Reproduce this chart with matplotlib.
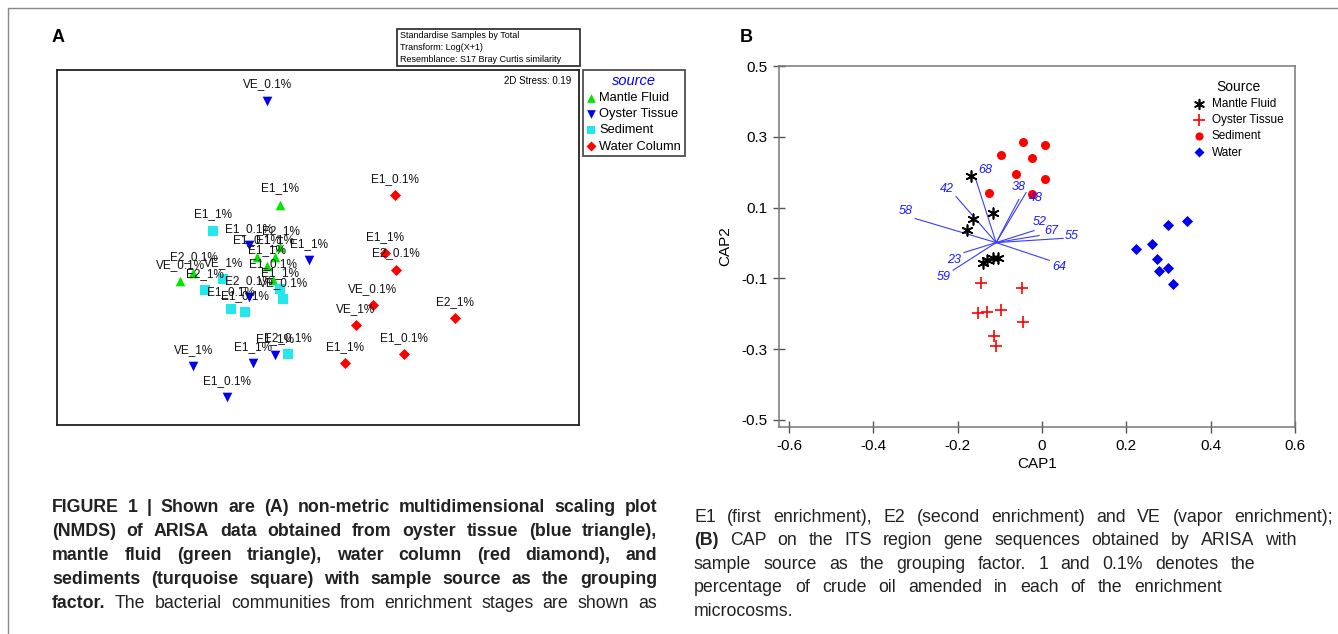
import matplotlib
matplotlib.use("Agg")
import matplotlib.pyplot as plt
from matplotlib.lines import Line2D
from matplotlib.patches import Rectangle

plt.rcParams['font.family'] = ['Liberation Sans', 'DejaVu Sans']

W, H = 1338, 634

# ---------------- panel A : NMDS of ARISA data ----------------
mantle_x = [-0.15, -0.92, -0.82, -0.33, -0.15, -0.25, -0.21, -0.19]
mantle_y = [0.35, -0.24, -0.18, -0.05, 0.02, -0.12, -0.23, -0.05]
mantle_lab = ["E1_1%", "VE_0.1%", "E2_0.1%", "E1_0.1%", "E2_1%", "E1_1%", "E1_0.1%", "E1_1%"]

oyster_x = [-0.25, 0.07, -0.39, -0.39, -0.82, -0.36, -0.19, -0.56]
oyster_y = [1.15, -0.08, 0.04, -0.36, -0.89, -0.87, -0.81, -1.13]
oyster_lab = ["VE_0.1%", "E1_1%", "E1_0.1%", "E2_0.1%", "VE_1%", "E1_1%", "E1_1%", "E1_0.1%"]

sed_x = [-0.67, -0.59, -0.73, -0.53, -0.42, -0.15, -0.13, -0.09]
sed_y = [0.15, -0.22, -0.31, -0.45, -0.48, -0.30, -0.38, -0.80]
sed_lab = ["E1_1%", "VE_1%", "E2_1%", "E1_0.1%", "E1_0.1%", "E1_1%", "VE_0.1%", "E2_0.1%"]

water_x = [0.73, 0.65, 0.74, 0.56, 0.43, 1.19, 0.80, 0.35]
water_y = [0.42, -0.02, -0.15, -0.42, -0.58, -0.52, -0.80, -0.87]
water_lab = ["E1_0.1%", "E1_1%", "E2_0.1%", "VE_0.1%", "VE_1%", "E2_1%", "E1_0.1%", "E1_1%"]

# ---------------- panel B : CAP ----------------
mf_x = [-0.168, -0.116, -0.164, -0.178, -0.140, -0.131, -0.117, -0.105]
mf_y = [0.190, 0.086, 0.069, 0.038, -0.056, -0.048, -0.042, -0.042]

ot_x = [-0.145, -0.047, -0.152, -0.130, -0.097, -0.045, -0.114, -0.109]
ot_y = [-0.114, -0.128, -0.199, -0.196, -0.190, -0.224, -0.263, -0.292]

sd_x = [-0.045, 0.007, -0.097, -0.024, -0.062, 0.007, -0.126, -0.024]
sd_y = [0.286, 0.277, 0.249, 0.241, 0.196, 0.182, 0.142, 0.137]

wt_x = [0.223, 0.261, 0.299, 0.344, 0.273, 0.278, 0.299, 0.311]
wt_y = [-0.018, -0.004, 0.052, 0.063, -0.046, -0.080, -0.072, -0.117]

vec_origin = (-0.109, 0.001)
vec_names = ["68", "42", "58", "38", "48", "52", "67", "55", "64", "23", "59"]
vec_x = [-0.157, -0.204, -0.301, -0.055, -0.038, -0.019, -0.007, 0.050, 0.017, -0.185, -0.211]
vec_y = [0.179, 0.131, 0.069, 0.123, 0.142, 0.035, 0.021, 0.013, -0.049, -0.027, -0.077]
# label offsets from vector tips (pixels)
vec_dx = [9, -9, -9, 0, 10, 6, 12, 9, 10, -10, -9]
vec_dy = [10, 8, 8, 12, -5, 9, 5, 2, -7, -7, -7]

fig = plt.figure(figsize=(W / 100, H / 100), dpi=100)

# outer frame (left and top)
fig.add_artist(Line2D([8 / W, 8 / W, 1], [0, 1 - 8 / H, 1 - 8 / H], color='#888888', lw=1,
                      transform=fig.transFigure))

# ---- panel A ----
axA = fig.add_axes([57 / W, 1 - 425 / H, 522 / W, 355 / H])
groups = [
    (mantle_x, mantle_y, mantle_lab, '^', '#00e600', 'Mantle Fluid'),
    (oyster_x, oyster_y, oyster_lab, 'v', '#0000ee', 'Oyster Tissue'),
    (sed_x, sed_y, sed_lab, 's', '#22e8ee', 'Sediment'),
    (water_x, water_y, water_lab, 'D', '#ff0000', 'Water Column'),
]
for gx, gy, glab, mk, col, name in groups:
    s = 32 if mk == 'D' else 48
    axA.scatter(gx, gy, marker=mk, s=s, color=col, linewidths=0, label=name, zorder=3)
for gx, gy, glab, mk, col, name in groups:
    for x, y, t in zip(gx, gy, glab):
        axA.annotate(t, (x, y), xytext=(0, 11.5), textcoords='offset points',
                     ha='center', va='center', fontsize=8.5, color='#111111', zorder=4)
axA.set_xlim(-1.869, 2.146)
axA.set_ylim(-1.346, 1.385)
axA.set_xticks([])
axA.set_yticks([])
for sp in axA.spines.values():
    sp.set_linewidth(1.3)
    sp.set_color('#222222')
axA.text(0.986, 0.97, "2D Stress: 0.19", transform=axA.transAxes, ha='right', va='center', fontsize=7)

legA = axA.legend(loc='upper left', bbox_to_anchor=(583 / W, 1 - 70 / H), bbox_transform=fig.transFigure,
                  title='source', fontsize=9.3, frameon=True, fancybox=False, handlelength=0.6,
                  handletextpad=0.35, labelspacing=0.32, borderpad=0.3, borderaxespad=0,
                  markerscale=0.9)
legA.get_frame().set_edgecolor('#222222')
legA.get_frame().set_linewidth(1.3)
legA.get_title().set_color('#0000ee')
legA.get_title().set_fontstyle('italic')
legA.get_title().set_fontsize(10.5)

# info box above panel A
fig.add_artist(Rectangle((397 / W, 1 - 66 / H), 183 / W, 37 / H, fill=False, ec='#222222', lw=1.2,
                         transform=fig.transFigure))
for yy, line in zip([35, 47, 59], ["Standardise Samples by Total", "Transform: Log(X+1)",
                                   "Resemblance: S17 Bray Curtis similarity"]):
    fig.text(400 / W, 1 - yy / H, line, fontsize=6.5, va='center', ha='left')

fig.text(52 / W, 1 - 38 / H, "A", fontsize=13, fontweight='bold', va='center', ha='left')

# ---- panel B ----
axB = fig.add_axes([779 / W, 1 - 427 / H, 516 / W, 361 / H])
vec_col = '#3b3bff'
for name, ex, ey, dx, dy in zip(vec_names, vec_x, vec_y, vec_dx, vec_dy):
    axB.plot([vec_origin[0], ex], [vec_origin[1], ey], color=vec_col, lw=0.8, zorder=2)
    axB.annotate(name, (ex, ey), xytext=(dx * 0.72, dy * 0.72), textcoords='offset points',
                 ha='center', va='center', fontsize=9, color='#1a1aff', style='italic', zorder=4)
axB.scatter(mf_x, mf_y, marker=(6, 2, 0), s=60, color='black', linewidths=1.2, label='Mantle Fluid', zorder=3)
axB.scatter(ot_x, ot_y, marker='+', s=80, color='#ff0000', linewidths=1.2, label='Oyster Tissue', zorder=3)
axB.scatter(sd_x, sd_y, marker='o', s=42, color='#ff0000', linewidths=0, label='Sediment', zorder=3)
axB.scatter(wt_x, wt_y, marker='D', s=32, color='#0000ee', linewidths=0, label='Water', zorder=3)
axB.set_xlim(-0.624, 0.6)
axB.set_ylim(-0.52, 0.5)
axB.set_xticks([-0.6, -0.4, -0.2, 0, 0.2, 0.4, 0.6])
axB.set_xticklabels(["-0.6", "-0.4", "-0.2", "0", "0.2", "0.4", "0.6"])
axB.set_yticks([-0.5, -0.3, -0.1, 0.1, 0.3, 0.5])
axB.set_yticklabels(["-0.5", "-0.3", "-0.1", "0.1", "0.3", "0.5"])
axB.tick_params(direction='inout', length=9, width=1, color='#555555', labelsize=11, pad=4)
for sp in axB.spines.values():
    sp.set_color('#777777')
    sp.set_linewidth(1.1)
axB.set_xlabel("CAP1", fontsize=11, labelpad=3)
axB.set_ylabel("CAP2", fontsize=11, labelpad=6)
legB = axB.legend(loc='upper left', bbox_to_anchor=(1193 / W, 1 - 80 / H), bbox_transform=fig.transFigure,
                  title='Source', fontsize=8.5, frameon=False, handlelength=1.0, handletextpad=0.6,
                  labelspacing=0.35, borderpad=0, borderaxespad=0, markerscale=0.9)
legB.get_title().set_fontsize(10)
fig.text(740 / W, 1 - 38 / H, "B", fontsize=13, fontweight='bold', va='center', ha='left')

# ---- caption ----
cap_font = ['Liberation Sans', 'DejaVu Sans']
renderer = fig.canvas.get_renderer()


def put_line(tokens, x0, x1, y, size):
    texts = []
    for word, bold in tokens:
        t = fig.text(x0 / W, 1 - y / H, word, fontsize=size, family=cap_font,
                     fontweight='bold' if bold else 'normal', va='baseline', ha='left', color='#222222')
        texts.append(t)
    widths = [t.get_window_extent(renderer).width for t in texts]
    if x1 is None or len(texts) < 2:
        gap = size * 100 / 72 * 0.3
    else:
        gap = (x1 - x0 - sum(widths)) / (len(texts) - 1)
    x = x0
    for t, w in zip(texts, widths):
        t.set_x(x / W)
        x += w + gap


def tok(s, bold):
    return [(w, bold) for w in s.split()]


left_lines = [
    tok("FIGURE 1 | Shown are (A) non-metric multidimensional scaling plot", True),
    tok("(NMDS) of ARISA data obtained from oyster tissue (blue triangle),", True),
    tok("mantle fluid (green triangle), water column (red diamond), and", True),
    tok("sediments (turquoise square) with sample source as the grouping", True),
    tok("factor.", True) + tok("The bacterial communities from enrichment stages are shown as", False),
]
left_y = [512, 536, 560, 584, 608]
for toks, y in zip(left_lines, left_y):
    put_line(toks, 52, 657, y, 12.8)

right_lines = [
    tok("E1 (first enrichment), E2 (second enrichment) and VE (vapor enrichment);", False),
    tok("(B)", True) + tok("CAP on the ITS region gene sequences obtained by ARISA with", False),
    tok("sample source as the grouping factor. 1 and 0.1% denotes the", False),
    tok("percentage of crude oil amended in each of the enrichment", False),
    tok("microcosms.", False),
]
right_y = [522, 545, 569, 592, 616]
right_end = [1333, 1297, 1255, 1222, None]
for toks, y, xe in zip(right_lines, right_y, right_end):
    put_line(toks, 694, xe, y, 12.8)

fig.savefig("out.png", dpi=100)
